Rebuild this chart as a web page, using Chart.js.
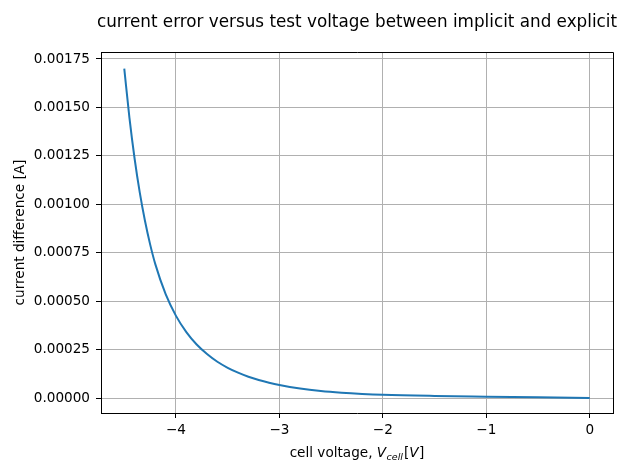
<!DOCTYPE html>
<html>
<head>
<meta charset="utf-8">
<script src="https://cdn.jsdelivr.net/npm/chart.js@4/dist/chart.umd.min.js"></script>
<style>
  html, body { margin: 0; padding: 0; background: #fff; }
  #wrap { width: 640px; height: 476px; }
</style>
</head>
<body>
<div id="wrap"><canvas id="c" width="640" height="476"></canvas></div>
<script>
// ---- data ----
const voltages = [-4.5, -4.45, -4.4, -4.35, -4.3, -4.25, -4.2, -4.1, -4.0, -3.9, -3.8, -3.7, -3.6, -3.5, -3.4, -3.3, -3.2, -3.1, -3.0, -2.8, -2.6, -2.4, -2.2, -2.0, -1.5, -1.0, -0.5, 0.0];
const currentDiff = [0.001700, 0.001446, 0.001235, 0.001060, 0.000915, 0.000793, 0.000691, 0.000536, 0.000424, 0.000340, 0.000276, 0.000227, 0.000187, 0.000156, 0.000131, 0.000110, 0.0000930, 0.0000789, 0.0000671, 0.0000489, 0.0000362, 0.0000274, 0.0000211, 0.0000166, 0.0000106, 0.0000068, 0.0000034, 0.0000003];
const xTicks = [-4, -3, -2, -1, 0];
const yTicks = [0, 0.00025, 0.0005, 0.00075, 0.001, 0.00125, 0.0015, 0.00175];
const titleText = 'current error versus test voltage between implicit and explicit';
const yLabel = 'current difference [A]';

const FONT = 'DejaVu Sans';
const FS = 13.6;

const overlay = {
  id: 'overlay',
  afterDraw(chart) {
    const ctx = chart.ctx;
    const a = chart.chartArea;
    ctx.save();
    // top & right spines
    ctx.strokeStyle = '#000';
    ctx.lineWidth = 1;
    const t = Math.round(a.top) + 0.5, r = Math.round(a.right) + 0.5;
    ctx.beginPath();
    ctx.moveTo(Math.round(a.left), t);
    ctx.lineTo(r, t);
    ctx.lineTo(r, Math.round(a.bottom) + 1);
    ctx.stroke();
    // title
    const cx = (a.left + a.right) / 2;
    ctx.fillStyle = '#000';
    ctx.textAlign = 'center';
    ctx.textBaseline = 'alphabetic';
    ctx.font = '16.8px "' + FONT + '"';
    ctx.fillText(titleText, cx, 26.5);
    // x-axis label with math-style V_cell[V]
    const parts = [
      {t: 'cell voltage, ', f: FS + 'px "' + FONT + '"', dy: 0, gap: 0},
      {t: 'V', f: 'oblique ' + FS + 'px "' + FONT + '"', dy: 0, gap: 0.5},
      {t: 'cell', f: 'oblique ' + (FS * 0.7).toFixed(2) + 'px "' + FONT + '"', dy: 2.6, gap: 1},
      {t: '[', f: FS + 'px "' + FONT + '"', dy: 0, gap: 0},
      {t: 'V', f: 'oblique ' + FS + 'px "' + FONT + '"', dy: 0, gap: 0.5},
      {t: ']', f: FS + 'px "' + FONT + '"', dy: 0, gap: 0}
    ];
    let total = 0;
    parts.forEach(p => { ctx.font = p.f; p.w = ctx.measureText(p.t).width + p.gap; total += p.w; });
    let x = cx - total / 2;
    ctx.textAlign = 'left';
    const base = 457.3;
    parts.forEach(p => { ctx.font = p.f; ctx.fillText(p.t, x, base + p.dy); x += p.w; });
    ctx.restore();
  }
};

const fmtX = v => v < 0 ? '\u2212' + Math.abs(v) : String(v);

new Chart(document.getElementById('c'), {
  type: 'line',
  data: {
    datasets: [{
      data: voltages.map((v, i) => ({x: v, y: currentDiff[i]})),
      borderColor: '#1f77b4',
      borderWidth: 2,
      pointRadius: 0,
      fill: false,
      cubicInterpolationMode: 'monotone'
    }]
  },
  options: {
    responsive: false,
    animation: false,
    devicePixelRatio: 1,
    layout: { padding: { top: 52, right: 27, left: 0, bottom: 0 } },
    plugins: { legend: { display: false }, title: { display: false }, tooltip: { enabled: false } },
    scales: {
      x: {
        type: 'linear',
        min: -4.725,
        max: 0.225,
        afterFit: s => { s.height = 63; },
        afterBuildTicks: s => { s.ticks = xTicks.map(v => ({value: v})); },
        ticks: { callback: fmtX, color: '#000', font: { family: FONT, size: FS }, padding: 4, maxRotation: 0, autoSkip: false },
        grid: { color: '#b0b0b0', lineWidth: 1, tickColor: '#000', tickLength: 5, drawTicks: true },
        border: { color: '#000', width: 1 }
      },
      y: {
        type: 'linear',
        min: -0.0000774,
        max: 0.001786,
        afterFit: s => { s.width = 101; },
        afterBuildTicks: s => { s.ticks = yTicks.map(v => ({value: v})); },
        ticks: { callback: v => v.toFixed(5), color: '#000', font: { family: FONT, size: FS }, padding: 6, autoSkip: false },
        grid: { color: '#b0b0b0', lineWidth: 1, tickColor: '#000', tickLength: 5, drawTicks: true },
        border: { color: '#000', width: 1 },
        title: { display: true, text: yLabel, color: '#000', font: { family: FONT, size: FS }, padding: { top: 12.4, bottom: 0 } }
      }
    }
  },
  plugins: [overlay]
});
</script>
</body>
</html>
